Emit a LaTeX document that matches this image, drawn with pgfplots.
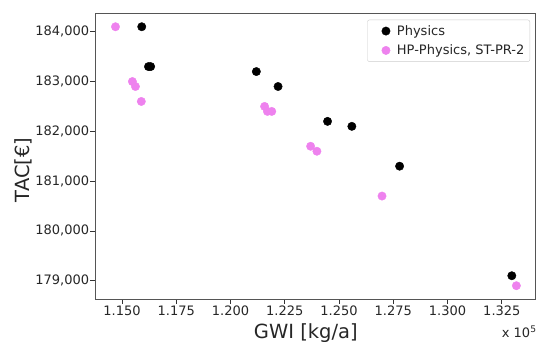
\documentclass[border=0pt]{standalone}
\usepackage{pgfplots}
\pgfplotsset{compat=1.18}
\usepackage{fontspec}
\setmainfont{DejaVu Sans}
\definecolor{violetc}{HTML}{EE82EE}
\definecolor{framec}{HTML}{555555}
\begin{document}
\begin{tikzpicture}
\useasboundingbox (0,0) rectangle (537bp,342bp);
\begin{axis}[
  at={(95.3bp,43bp)}, anchor=south west,
  width=440.4bp, height=285.7bp, scale only axis,
  xmin=113770, xmax=134060, ymin=178633, ymax=184370,
  scaled x ticks=false, scaled y ticks=false,
  clip=false,
  axis line style={framec, line width=0.9bp},
  tick align=outside, major tick length=5bp,
  tick style={black!80, line width=0.8bp},
  xtick={115000,117500,120000,122500,125000,127500,130000,132500},
  xticklabels={1.150,1.175,1.200,1.225,1.250,1.275,1.300,1.325},
  ytick={179000,180000,181000,182000,183000,184000},
  yticklabels={{179,000},{180,000},{181,000},{182,000},{183,000},{184,000}},
  xtick pos=bottom, ytick pos=left,
  ticklabel style={font=\fontsize{13bp}{15bp}\selectfont, text=black!85},
  yticklabel style={inner sep=1bp},
  xticklabel style={inner sep=2bp},
  xlabel={GWI [kg/a]},
  ylabel={TAC[€]},
  xlabel style={at={(axis description cs:0.478,0)}, anchor=center, yshift=-33.7bp, font=\fontsize{19.5bp}{22bp}\selectfont, text=black!85},
  ylabel style={at={(axis description cs:0,0.4515)}, anchor=center, yshift=72.3bp, font=\fontsize{19.5bp}{22bp}\selectfont, text=black!85},
  legend style={at={(1,1)}, anchor=north east, xshift=-5.7bp, yshift=-6.4bp,
    draw=black!20, rounded corners=2bp, font=\fontsize{13bp}{15bp}\selectfont,
    inner sep=3.5bp, row sep=4bp, text=black!85},
  legend cell align=left,
  legend image code/.code={\path[draw=none,fill=none] (-15bp,-5bp) rectangle (9bp,5bp); \draw[mark repeat=2,mark phase=2,#1] plot coordinates {(-1bp,0)(0,0)(1bp,0)};},
]
\addplot[black, only marks, mark=*, mark size=4.2bp, mark options={draw=none, fill=black}] coordinates {
(115910,184100)
(116220,183300)
(116320,183300)
(121190,183200)
(122190,182900)
(124470,182200)
(125590,182100)
(127790,181300)
(132960,179100)
};
\addlegendentry{Physics}
\addplot[violetc, only marks, mark=*, mark size=4.2bp, mark options={draw=none, fill=violetc}] coordinates {
(114700,184100)
(115480,183000)
(115620,182900)
(115890,182600)
(121570,182500)
(121700,182400)
(121900,182400)
(123690,181700)
(123980,181600)
(126980,180700)
(133170,178900)
};
\addlegendentry{HP-Physics, ST-PR-2}
\node[anchor=base west, inner sep=0, font=\fontsize{13bp}{15bp}\selectfont, text=black!85] at ([yshift=-38.3bp]rel axis cs:0.9228,0) {x 10\textsuperscript{5}};
\end{axis}
\end{tikzpicture}
\end{document}
